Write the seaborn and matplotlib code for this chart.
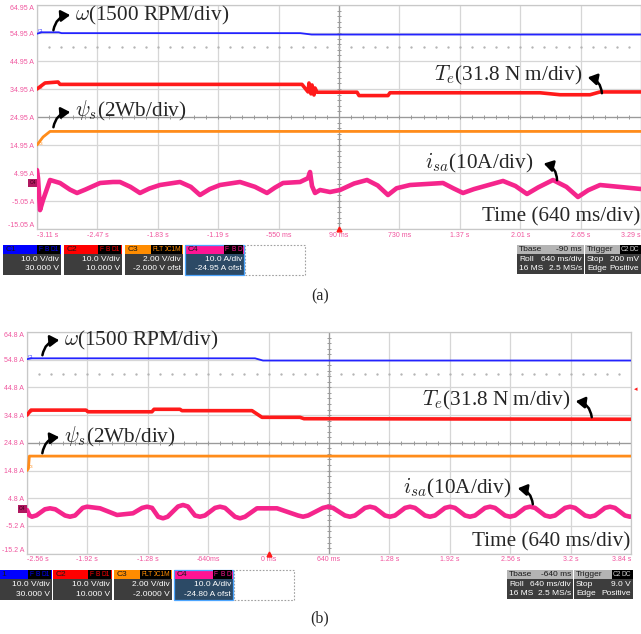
import numpy as np
import pandas as pd
import matplotlib
matplotlib.use("Agg")
import matplotlib.pyplot as plt
import seaborn as sns
from matplotlib.patches import Rectangle, FancyArrowPatch

# ---------------- panel (a) data ----------------
a_time_ticks = [-3.11, -2.47, -1.83, -1.19, -0.55, 0.09, 0.73, 1.37, 2.01, 2.65, 3.29]
a_time_labels = ["-3.11 s", "-2.47 s", "-1.83 s", "-1.19 s", "-550 ms", "90 ms",
                 "730 ms", "1.37 s", "2.01 s", "2.65 s", "3.29 s"]
a_level_ticks = [64.95, 54.95, 44.95, 34.95, 24.95, 14.95, 4.95, -5.05, -15.05]
a_level_labels = ["64.95 A", "54.95 A", "44.95 A", "34.95 A", "24.95 A", "14.95 A",
                  "4.95 A", "-5.05 A", "-15.05 A"]

a_speed_t = [-3.11, -3.06, -2.88, -2.85, -0.32, -0.20, 3.29]
a_speed_v = [54.7, 55.2, 55.2, 54.9, 54.9, 54.4, 54.4]

a_torque_t = [-3.11, -3.025, -2.887, -2.866, -0.302, -0.238, -0.228, -0.207, -0.196,
              -0.175, -0.164, -0.143, 0.281, 0.302, 0.609, 0.630, 2.220, 2.432,
              2.750, 2.856, 3.29]
a_torque_v = [34.95, 37.1, 37.45, 36.6, 36.6, 33.9, 37.1, 33.2, 36.4,
              32.8, 35.3, 33.8, 33.8, 32.6, 32.6, 33.6, 33.6, 32.9,
              32.9, 33.9, 33.9]

a_flux_t = [-3.11, -3.046, -2.972, 3.29]
a_flux_v = [14.95, 17.8, 19.8, 19.8]

a_current_t = [-3.110, -3.099, -3.078, -3.046, -2.972, -2.866, -2.760, -2.686, -2.600,
               -2.442, -2.305, -2.231, -2.120, -2.019, -1.920, -1.807, -1.595, -1.480,
               -1.383, -1.280, -1.171, -0.959, -0.800, -0.673, -0.590, -0.503, -0.323,
               -0.239, -0.217, -0.196, -0.164, -0.111, -0.005, 0.101, 0.250, 0.387,
               0.500, 0.609, 0.700, 0.842, 1.192, 1.300, 1.404, 1.520, 1.828, 1.960,
               2.082, 2.200, 2.357, 2.500, 2.622, 2.730, 2.856, 3.290]
a_current_v = [6.0, 3.0, -8.3, -4.7, 2.45, 1.38, -1.0, -2.19, -1.0,
               1.38, 1.74, 1.74, 0.0, -2.19, -0.6, 0.66, 1.74, 0.0,
               -2.91, -0.8, 0.66, 1.74, 0.0, -2.19, -0.3, 1.38, 1.74,
               3.1, 5.3, 0.3, -2.19, -1.12, -1.84, -1.12, 1.2, 2.45,
               0.5, -2.91, -0.5, 0.66, 1.38, -0.5, -2.19, -0.8, 2.1, 0.3,
               -2.55, -0.2, 2.45, 0.0, -3.62, -1.2, 0.66, -0.76]

# ---------------- panel (b) data ----------------
b_time_ticks = [-2.56, -1.92, -1.28, -0.64, 0.0, 0.64, 1.28, 1.92, 2.56, 3.2, 3.84]
b_time_labels = ["-2.56 s", "-1.92 s", "-1.28 s", "-640ms", "0 ms", "640 ms",
                 "1.28 s", "1.92 s", "2.56 s", "3.2 s", "3.84 s"]
b_level_ticks = [64.8, 54.8, 44.8, 34.8, 24.8, 14.8, 4.8, -5.2, -15.2]
b_level_labels = ["64.8 A", "54.8 A", "44.8 A", "34.8 A", "24.8 A", "14.8 A",
                  "4.8 A", "-5.2 A", "-15.2 A"]

b_speed_t = [-2.56, -2.51, -0.144, -0.059, 3.84]
b_speed_v = [55.0, 55.3, 55.3, 54.5, 54.5]

b_torque_t = [-2.56, -2.518, -1.935, -1.914, -1.236, -1.214, -0.939, -0.918,
              -0.176, -0.070, 0.333, 0.375, 3.84]
b_torque_v = [34.8, 36.6, 36.6, 36.0, 36.0, 36.9, 36.9, 36.4,
              36.4, 34.0, 34.0, 33.5, 33.3]

b_flux_t = [-2.56, -2.545, -2.535, 3.84]
b_flux_v = [14.8, 15.5, 20.0, 20.0]

b_current_t = [-2.560, -2.535, -2.507, -2.460,
               -2.370, -2.316, -2.260,
               -2.157, -2.104, -2.051,
               -1.970, -1.924, -1.786,
               -1.606, -1.437,
               -1.340, -1.288, -1.235,
               -1.170, -1.119, -1.070,
               -0.960, -0.907, -0.855,
               -0.780, -0.727, -0.675,
               -0.568, -0.515, -0.462,
               -0.356, -0.303, -0.250,
               -0.123, 0.089,
               0.312, 0.365, 0.418,
               0.576, 0.629, 0.682,
               0.809, 0.862, 0.915,
               1.021, 1.074, 1.127,
               1.233, 1.286, 1.339,
               1.445, 1.498, 1.551,
               1.657, 1.710, 1.763,
               1.869, 1.922, 1.975,
               2.081, 2.134, 2.187,
               2.293, 2.346, 2.399,
               2.505, 2.558, 2.611,
               2.717, 2.770, 2.823,
               2.929, 2.982, 3.035,
               3.141, 3.194, 3.247,
               3.353, 3.406, 3.459,
               3.564, 3.617, 3.670,
               3.776, 3.829, 3.840]
b_current_v = [0.54, -1.4, -1.88, -1.4,
               0.8, 1.15, 0.8,
               -1.45, -1.88, -1.45,
               1.3, 1.73, 1.15,
               -1.26, -0.65,
               1.3, 1.73, 1.3,
               -1.9, -2.46, -1.9,
               1.8, 2.35, 1.8,
               -1.45, -1.88, -1.45,
               1.3, 1.73, 1.3,
               -1.9, -2.46, -1.9,
               1.15, 1.15,
               -1.45, -1.88, -1.45,
               1.3, 1.73, 1.3,
               -1.45, -1.88, -1.45,
               1.3, 1.73, 1.3,
               -1.45, -1.88, -1.45,
               1.3, 1.73, 1.3,
               -1.45, -1.88, -1.45,
               1.3, 1.73, 1.3,
               -1.45, -1.88, -1.45,
               1.3, 1.73, 1.3,
               -1.45, -1.88, -1.45,
               1.3, 1.73, 1.3,
               -1.45, -1.88, -1.45,
               1.3, 1.73, 1.3,
               -1.45, -1.88, -1.45,
               1.3, 1.73, 1.3,
               -1.45, -1.88, -1.8]

# ---------------- style ----------------
sns.set_theme(style="white")
plt.rcParams['font.family'] = ['Liberation Serif', 'DejaVu Serif']
plt.rcParams['mathtext.fontset'] = 'cm'

SANS = ['Liberation Sans', 'DejaVu Sans']
C_BLUE, C_RED, C_ORANGE, C_PINK = '#2323ff', '#ff1a1a', '#ff8c1a', '#f5258c'
TICK_PINK = '#f0559e'
GRID = '#d6d6d6'

W, H = 641, 634
fig = plt.figure(figsize=(W / 100, H / 100), dpi=100)


def fx(px):
    return px / W


def fy(py):
    return 1 - py / H


def rect(x, y, w, h, fc, ec='none', lw=0.0, ls='-', z=5):
    fig.add_artist(Rectangle((fx(x), fy(y + h)), w / W, h / H, transform=fig.transFigure,
                             facecolor=fc, edgecolor=ec, linewidth=lw, linestyle=ls, zorder=z))


def ftext(x, y, s, **kw):
    kw.setdefault('fontfamily', SANS)
    kw.setdefault('zorder', 6)
    return fig.text(fx(x), fy(y), s, **kw)


def arrow(p0, p1, rad):
    fig.add_artist(FancyArrowPatch((fx(p0[0]), fy(p0[1])), (fx(p1[0]), fy(p1[1])),
                                   transform=fig.transFigure,
                                   connectionstyle=f"arc3,rad={rad}",
                                   arrowstyle="-|>,head_length=0.45,head_width=0.28",
                                   mutation_scale=12, lw=1.8, color='black', zorder=7))


def scope_axes(rect_px, tticks, tlabels, lticks, llabels, center_t, center_v, dot_v):
    x0, y0, x1, y1 = rect_px
    ax = fig.add_axes([fx(x0), fy(y1), (x1 - x0) / W, (y1 - y0) / H])
    ax.set_xlim(tticks[0], tticks[-1])
    ax.set_ylim(lticks[-1], lticks[0])
    ax.set_xticks(tticks)
    ax.set_yticks(lticks)
    ax.set_xticklabels(tlabels, fontfamily=SANS, fontsize=5, color=TICK_PINK)
    ax.set_yticklabels(llabels, fontfamily=SANS, fontsize=5, color=TICK_PINK)
    xl = ax.get_xticklabels()
    xl[0].set_ha('left')
    xl[-1].set_ha('right')
    yl = ax.get_yticklabels()
    yl[0].set_va('top')
    yl[-1].set_va('bottom')
    ax.tick_params(length=0, pad=2)
    ax.grid(True, color=GRID, lw=0.9)
    for s in ax.spines.values():
        s.set_color('#c8c8c8')
        s.set_linewidth(0.9)
    ax.set_facecolor('white')
    # centre cross with minor ticks
    ax.axvline(center_t, color='#9a9a9a', lw=0.9, zorder=1)
    ax.axhline(center_v, color='#9a9a9a', lw=0.9, zorder=1)
    tstep = (tticks[1] - tticks[0]) / 5
    vstep = (lticks[0] - lticks[1]) / 5
    tx = np.arange(tticks[0], tticks[-1] + 1e-9, tstep)
    vy = np.arange(lticks[-1], lticks[0] + 1e-9, vstep)
    ax.plot(tx, np.full(len(tx), center_v), ls='none', marker='|', ms=3.5, mew=0.7,
            color='#9a9a9a', zorder=1)
    ax.plot(np.full(len(vy), center_t), vy, ls='none', marker='_', ms=3.5, mew=0.7,
            color='#9a9a9a', zorder=1)
    ax.plot(tx[1:-1], np.full(len(tx) - 2, dot_v), ls='none', marker='o', ms=0.7,
            color='#b4b4b4', zorder=1)
    return ax


def draw_traces(ax, speed, torque, flux, current):
    sns.lineplot(x=speed[0], y=speed[1], ax=ax, color=C_BLUE, lw=1.3, estimator=None, sort=False, zorder=4)
    sns.lineplot(x=torque[0], y=torque[1], ax=ax, color=C_RED, lw=2.6, estimator=None, sort=False, zorder=4)
    sns.lineplot(x=flux[0], y=flux[1], ax=ax, color=C_ORANGE, lw=2.0, estimator=None, sort=False, zorder=4)
    sns.lineplot(x=current[0], y=current[1], ax=ax, color=C_PINK, lw=3.3, estimator=None, sort=False, zorder=4)
    ax.set_xlabel('')
    ax.set_ylabel('')


# ---------------- panel (a) ----------------
ax1 = scope_axes((37, 5, 641, 229), a_time_ticks, a_time_labels, a_level_ticks, a_level_labels,
                 a_time_ticks[5], a_level_ticks[4], 49.95)
draw_traces(ax1, (a_speed_t, a_speed_v), (a_torque_t, a_torque_v), (a_flux_t, a_flux_v),
            (a_current_t, a_current_v))
ax1.plot([a_time_ticks[5]], [a_level_ticks[-1]], marker='^', ms=3.5, color=C_RED,
         clip_on=False, zorder=6)

# ---------------- panel (b) ----------------
ax2 = scope_axes((27, 332, 631, 553.6), b_time_ticks, b_time_labels, b_level_ticks, b_level_labels,
                 b_time_ticks[5], b_level_ticks[4], 49.8)
draw_traces(ax2, (b_speed_t, b_speed_v), (b_torque_t, b_torque_v), (b_flux_t, b_flux_v),
            (b_current_t, b_current_v))
ax2.plot([b_time_ticks[4]], [b_level_ticks[-1]], marker='^', ms=3.5, color=C_RED,
         clip_on=False, zorder=6)

# channel markers on left edge
for (x, ys) in [(38, (31, 88, 144)), (28, (357, 412, 467))]:
    for yy, lab, col in zip(ys, ("C1", "C2", "C3"), (C_BLUE, C_RED, C_ORANGE)):
        ftext(x, yy, lab, fontsize=3.2, color=col, ha='left', va='center')
ftext(32.5, 183, "C4", fontsize=3.6, color='#3a0018', ha='center', va='center',
      bbox=dict(boxstyle='square,pad=0.25', fc='#b01860', ec='none'))
ftext(22, 509, "C4", fontsize=3.6, color='#3a0018', ha='center', va='center',
      bbox=dict(boxstyle='square,pad=0.25', fc='#b01860', ec='none'))
ftext(636, 390, "◂", fontsize=5, color=C_RED, ha='center', va='center')

# ---------------- annotations ----------------
ANN = 15.3
SERIF = ['Liberation Serif']
ftext(75, 15, r"$\omega$(1500 RPM/div)", fontsize=ANN, fontfamily=SERIF, ha='left', va='center')
ftext(75, 111, r"$\psi_s$(2Wb/div)", fontsize=ANN, fontfamily=SERIF, ha='left', va='center')
ftext(583, 75, r"$T_e$(31.8 N m/div)", fontsize=ANN, fontfamily=SERIF, ha='right', va='center')
ftext(533, 163, r"$i_{sa}$(10A/div)", fontsize=ANN, fontfamily=SERIF, ha='right', va='center')
ftext(640, 217, "Time (640 ms/div)", fontsize=ANN, fontfamily=SERIF, ha='right', va='center')

ftext(64, 340, r"$\omega$(1500 RPM/div)", fontsize=ANN, fontfamily=SERIF, ha='left', va='center')
ftext(64, 437, r"$\psi_s$(2Wb/div)", fontsize=ANN, fontfamily=SERIF, ha='left', va='center')
ftext(571, 400, r"$T_e$(31.8 N m/div)", fontsize=ANN, fontfamily=SERIF, ha='right', va='center')
ftext(511, 488, r"$i_{sa}$(10A/div)", fontsize=ANN, fontfamily=SERIF, ha='right', va='center')
ftext(630, 542, "Time (640 ms/div)", fontsize=ANN, fontfamily=SERIF, ha='right', va='center')

arrow((53, 33), (73, 15), -0.45)
arrow((53, 130), (73, 112), -0.45)
arrow((602, 96), (585, 77), 0.45)
arrow((557, 183), (541, 163), 0.45)
arrow((42, 358), (62, 340), -0.45)
arrow((42, 456), (62, 437), -0.45)
arrow((592, 420), (573, 401), 0.45)
arrow((533, 507), (515, 488), 0.45)

ftext(320, 296, "(a)", fontsize=11.5, fontfamily=SERIF, ha='center', va='center')
ftext(320, 618, "(b)", fontsize=11.5, fontfamily=SERIF, ha='center', va='center')


# ---------------- info boxes ----------------
def channel_box(x, y, w, color, title, flags, line1, line2, body='#3d3d3d', border=None,
                title_x=None):
    rect(x, y, w, 8.5, color)
    rect(x, y + 8.5, w, 21, body)
    if border:
        rect(x, y, w, 29.5, 'none', ec=border, lw=0.9, z=6)
    tx = x + 2.5 if title_x is None else title_x
    ftext(tx, y + 4.6, title, fontsize=6, color='#1a1a1a', ha='left', va='center')
    xr = x + w - 2
    for f in reversed(flags):
        ftext(xr, y + 4.6, f, fontsize=4.8, color=color, ha='right', va='center',
              bbox=dict(boxstyle='square,pad=0.15', fc='black', ec='none'))
        xr -= len(f) * 3.6 + 3
    ftext(x + w - 2, y + 14.5, line1, fontsize=6, color='white', ha='right', va='center')
    ftext(x + w - 2, y + 24, line2, fontsize=6, color='white', ha='right', va='center')


def info_box(x, y, w, rows, flags=None):
    rect(x, y, w, 9, '#b4b4b4')
    rect(x, y + 9, w, 20, '#3d3d3d')
    for i, (l, r) in enumerate(rows):
        yy = y + 4.6 + i * 9.6
        col = '#1a1a1a' if i == 0 else 'white'
        ftext(x + 2, yy, l, fontsize=6, color=col, ha='left', va='center')
        if r:
            ftext(x + w - 2, yy, r, fontsize=6, color=col, ha='right', va='center')
    if flags:
        xr = x + w - 1.5
        for f in reversed(flags):
            ftext(xr, y + 4.6, f, fontsize=4.8, color='#d0d0d0', ha='right', va='center',
                  bbox=dict(boxstyle='square,pad=0.15', fc='black', ec='none'))
            xr -= len(f) * 3.6 + 3


# (a)
channel_box(3, 245, 58, '#0000ff', "C1", ["F", "B", "D1"], "10.0 V/div", "30.000 V")
channel_box(64, 245, 58, '#ff0000', "C2", ["F", "B", "D1"], "10.0 V/div", "10.000 V")
channel_box(125, 245, 58, '#ff8c00', "C3", ["FLT", "DC1M"], "2.00 V/div", "-2.000 V ofst")
channel_box(185, 245, 59, '#ff1493', "C4", ["F", "B", "D"], "10.0 A/div", "-24.95 A ofst",
            body='#2c4a66', border='#4da6ff')
rect(245, 245, 60, 29.5, 'white', ec='#a0a0a0', lw=0.8, ls=(0, (1.5, 1.5)))
info_box(517, 245, 67, [("Tbase", "-90 ms"), ("Roll", "640 ms/div"), ("16 MS", "2.5 MS/s")])
info_box(585, 245, 56, [("Trigger", None), ("Stop", "200 mV"), ("Edge", "Positive")],
         flags=["C2", "DC"])

# (b)  (the C1 box is cut by the left border, only "1" of its title shows)
channel_box(-7, 570, 59, '#0000ff', "1", ["F", "B", "D1"], "10.0 V/div", "30.000 V",
            title_x=1)
channel_box(53, 570, 59, '#ff0000', "C2", ["F", "B", "D1"], "10.0 V/div", "10.000 V")
channel_box(114, 570, 58, '#ff8c00', "C3", ["FLT", "DC1M"], "2.00 V/div", "-2.0000 V")
channel_box(174, 570, 59, '#ff1493', "C4", ["F", "B", "D"], "10.0 A/div", "-24.80 A ofst",
            body='#2c4a66', border='#4da6ff')
rect(234, 570, 60, 29.5, 'white', ec='#a0a0a0', lw=0.8, ls=(0, (1.5, 1.5)))
info_box(507, 570, 66, [("Tbase", "-640 ms"), ("Roll", "640 ms/div"), ("16 MS", "2.5 MS/s")])
info_box(574, 570, 59, [("Trigger", None), ("Stop", "9.0 V"), ("Edge", "Positive")],
         flags=["C2", "DC"])

fig.savefig("out.png", dpi=100)
